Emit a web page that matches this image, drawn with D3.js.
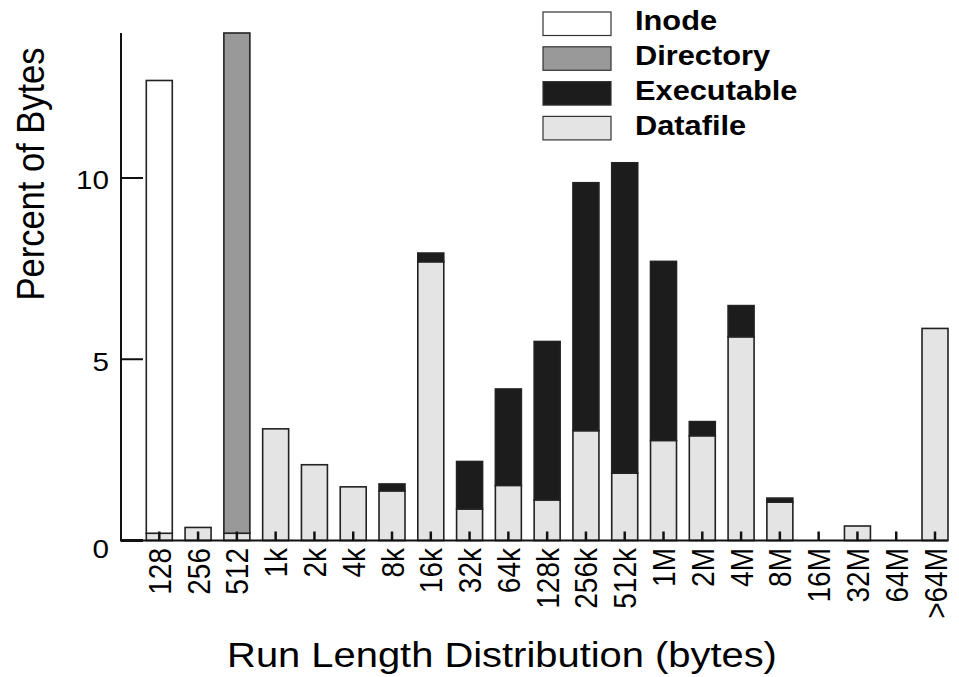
<!DOCTYPE html>
<html>
<head>
<meta charset="utf-8">
<script src="https://cdn.jsdelivr.net/npm/d3@7"></script>
<style>
  html, body { margin: 0; padding: 0; background: #fff; }
  svg { display: block; }
  text { font-family: "Liberation Sans", Arial, Helvetica, sans-serif; fill: #000; }
</style>
</head>
<body>
<svg id="chart" width="959" height="677"></svg>
<script>
// ---- data ----
const categories = ["128","256","512","1k","2k","4k","8k","16k","32k","64k","128k","256k","512k","1M","2M","4M","8M","16M","32M","64M",">64M"];
const datafile   = [0.2, 0.36, 0.2, 3.08, 2.09, 1.48, 1.37, 7.69, 0.87, 1.52, 1.12, 3.03, 1.86, 2.76, 2.89, 5.62, 1.06, 0, 0.4, 0, 5.85];
const executable = [0, 0, 0, 0, 0, 0, 0.19, 0.24, 1.31, 2.66, 4.37, 6.84, 8.56, 4.94, 0.39, 0.86, 0.11, 0, 0, 0, 0];
const directory  = [0, 0, 13.8, 0, 0, 0, 0, 0, 0, 0, 0, 0, 0, 0, 0, 0, 0, 0, 0, 0, 0];
const inode      = [12.49, 0, 0, 0, 0, 0, 0, 0, 0, 0, 0, 0, 0, 0, 0, 0, 0, 0, 0, 0, 0];
const seriesKeys   = ["datafile", "executable", "directory", "inode"];
const legendKeys   = ["inode", "directory", "executable", "datafile"];
const legendLabels = {inode: "Inode", directory: "Directory", executable: "Executable", datafile: "Datafile"};
const yTicks = [0, 5, 10];
const yTitle = "Percent of Bytes";
const xTitle = "Run Length Distribution (bytes)";

// ---- setup ----
const colors = {inode: "#ffffff", directory: "#999999", executable: "#1c1c1c", datafile: "#e4e4e4"};
const SX = 1.14; // horizontal text stretch seen in the reference
const svg = d3.select("#chart");

const rows = categories.map((c, i) => ({cat: c, datafile: datafile[i], executable: executable[i], directory: directory[i], inode: inode[i]}));

const x = d3.scaleBand().domain(categories).range([139.9, 954.4]).paddingInner(0.33).paddingOuter(0.165);
const y = d3.scaleLinear().domain([0, 14]).range([540.5, 33]);

const stacked = d3.stack().keys(seriesKeys)(rows);

// bars
const gBars = svg.append("g");
stacked.forEach(layer => {
  gBars.selectAll(null)
    .data(layer.filter(d => d[1] - d[0] > 0))
    .enter().append("rect")
    .attr("x", d => x(d.data.cat))
    .attr("width", x.bandwidth())
    .attr("y", d => y(d[1]))
    .attr("height", d => y(d[0]) - y(d[1]))
    .attr("fill", colors[layer.key])
    .attr("stroke", "#222")
    .attr("stroke-width", 1.6);
});

// x axis line & ticks
const axisX0 = 121, axisX1 = 948;
svg.append("line").attr("x1", axisX0).attr("x2", axisX1).attr("y1", y(0)).attr("y2", y(0))
  .attr("stroke", "#111").attr("stroke-width", 2);
svg.selectAll(".xt").data(categories).enter().append("line")
  .attr("x1", d => x(d) + x.bandwidth() / 2).attr("x2", d => x(d) + x.bandwidth() / 2)
  .attr("y1", y(0)).attr("y2", y(0) - 9)
  .attr("stroke", "#111").attr("stroke-width", 2.5);
svg.selectAll(".xl").data(categories).enter().append("text")
  .attr("transform", d => `translate(${x(d) + x.bandwidth() / 2},548) scale(${SX},1) rotate(-90)`)
  .attr("text-anchor", "end").attr("dy", "0.36em")
  .attr("font-size", 28).text(d => d);

// y axis line, ticks, labels
svg.append("line").attr("x1", axisX0).attr("x2", axisX0).attr("y1", y(14)).attr("y2", y(0) + 1)
  .attr("stroke", "#111").attr("stroke-width", 2);
svg.selectAll(".yt").data(yTicks).enter().append("line")
  .attr("x1", axisX0).attr("x2", axisX0 + 22)
  .attr("y1", d => y(d)).attr("y2", d => y(d))
  .attr("stroke", "#111").attr("stroke-width", d => d === 0 ? 3 : 2);
svg.selectAll(".yl").data(yTicks).enter().append("text")
  .attr("transform", d => `translate(109,${y(d) + (d === 0 ? 8 : 2)}) scale(${SX},1)`)
  .attr("text-anchor", "end").attr("dy", "0.36em")
  .attr("font-size", 26).text(d => d);

// axis titles
svg.append("text")
  .attr("transform", `translate(502,667) scale(${SX},1)`)
  .attr("text-anchor", "middle").attr("font-size", 35).text(xTitle);
svg.append("text")
  .attr("transform", `translate(44,174) scale(${SX},1) rotate(-90)`)
  .attr("text-anchor", "middle").attr("font-size", 34.5).text(yTitle);

// legend
const lg = svg.append("g");
legendKeys.forEach((k, i) => {
  const top = 12 + i * 34.8;
  lg.append("rect").attr("x", 543).attr("y", top).attr("width", 68).attr("height", 23.5)
    .attr("fill", colors[k]).attr("stroke", "#333").attr("stroke-width", 1.2);
  lg.append("text")
    .attr("transform", `translate(635,${top + 8.5}) scale(${SX},1)`)
    .attr("dy", "0.36em").attr("font-size", 27).attr("font-weight", "bold")
    .text(legendLabels[k]);
});
</script>
</body>
</html>
